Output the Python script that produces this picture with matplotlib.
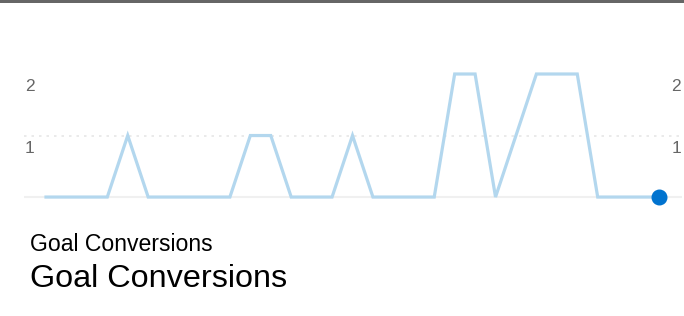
import matplotlib
matplotlib.use("Agg")
import matplotlib.pyplot as plt

# data: goal conversions per period
conversions = [0, 0, 0, 0, 1, 0, 0, 0, 0, 0, 1, 1, 0, 0, 0, 1,
               0, 0, 0, 0, 2, 2, 0, 1, 2, 2, 2, 0, 0, 0, 0]
periods = list(range(len(conversions)))
ytick_values = [1, 2]
metric_name = "Goal Conversions"

W, H = 684, 316
fig = plt.figure(figsize=(W / 100, H / 100), dpi=100)
plt.rcParams["font.family"] = ["Liberation Sans", "DejaVu Sans"]

# axes from x=24px to 682px, y 0 at 197px, 2 at 74px
ax = fig.add_axes([24 / W, (316 - 203.2) / H, 658 / W, (203.2 - 61.7) / H])
ax.set_xlim(-1.077, 30 + 1.126)
ax.set_ylim(-0.1, 2.2)
ax.axis("off")

# grid lines
ax.axhline(0, color="#f0f0f0", lw=1.5, zorder=1)
ax.axhline(1, color="#e6e6e6", lw=1.2, ls=(0, (1.5, 3)), zorder=1)

ax.plot(periods, conversions, color="#b3d7ee", lw=2.3, zorder=2,
        solid_joinstyle="miter")
ax.plot(periods[-1], conversions[-1], "o", color="#0073cf", ms=10.5,
        zorder=3, clip_on=False)

# y labels on both sides, sitting under their grid line
for v in ytick_values:
    for xa in (0.009, 0.991):
        ax.text(xa, v - 0.205, str(v), transform=ax.get_yaxis_transform(),
                ha="center", va="center", fontsize=12.5, color="#666666")

# dark bar on top
fig.add_artist(plt.Rectangle((0, 1 - 3 / H), 1, 3 / H, transform=fig.transFigure,
                             color="#666666", lw=0))

fig.text(30 / W, 1 - 251 / H, metric_name, fontsize=16.6, color="black",
         va="baseline", ha="left")
fig.text(30 / W, 1 - 287 / H, metric_name, fontsize=23.3, color="black",
         va="baseline", ha="left")

fig.savefig("out.png", dpi=100)
